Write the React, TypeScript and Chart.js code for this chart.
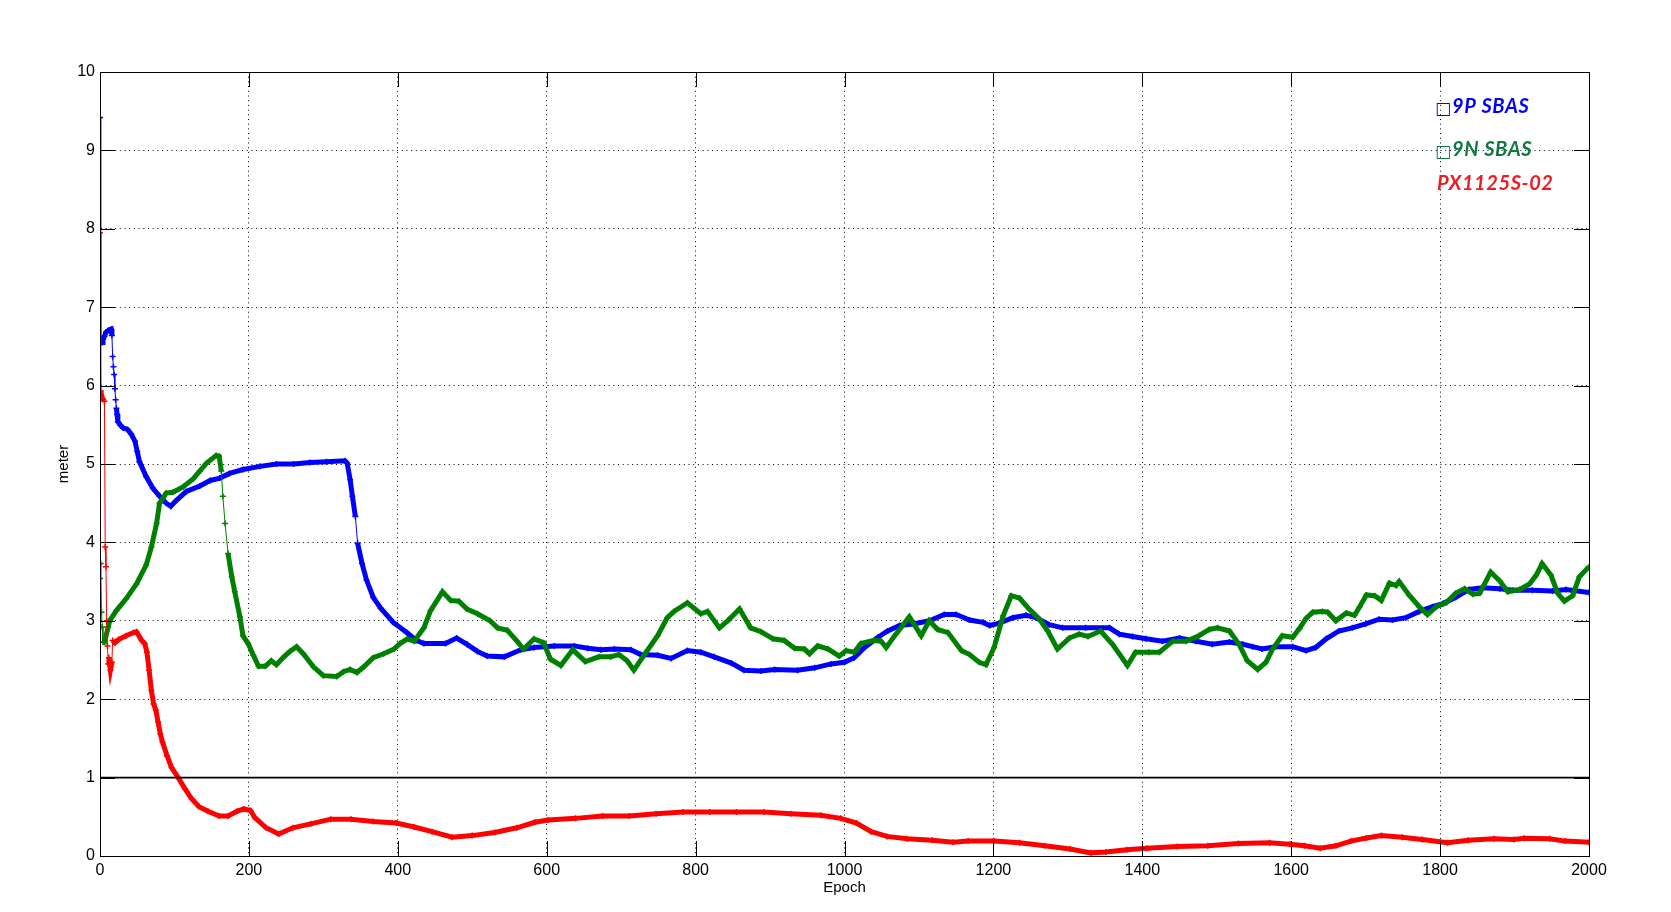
import React, { useEffect, useRef } from 'react';
import { Chart, registerables } from 'chart.js';

Chart.register(...registerables);

// ---- axis ticks ----
const xTickValues = [0, 200, 400, 600, 800, 1000, 1200, 1400, 1600, 1800, 2000];
const yTickValues = [0, 1, 2, 3, 4, 5, 6, 7, 8, 9, 10];

// ---- legend ----
const legendLabels = ['\u25A19P SBAS', '\u25A19N SBAS', 'PX1125S-02'];
const legendColors = ['#0000ff', '#0f7a3e', '#ee1c25'];

// ---- series (epoch, meter) ----
const blueSeries: [number, number][] = [
  [0, 9.42], [1, 6.55], [3, 6.55], [4, 6.59], [6, 6.63], [8, 6.68], [12, 6.71], [15, 6.72], [16, 6.64],
  [17, 6.37], [18, 6.24], [19, 6.14], [20, 5.96], [21, 5.82], [22, 5.71], [23, 5.63], [24, 5.54], [27, 5.5],
  [31, 5.46], [37, 5.44], [42, 5.38], [47, 5.29], [50, 5.16], [53, 5.03], [62, 4.84], [71, 4.69], [80, 4.59],
  [89, 4.5], [95, 4.46], [103, 4.54], [116, 4.65], [134, 4.72], [148, 4.79], [161, 4.82], [174, 4.88],
  [192, 4.93], [215, 4.97], [237, 5.0], [260, 5.0], [282, 5.02], [304, 5.03], [329, 5.04], [332, 5.01],
  [336, 4.8], [339, 4.59], [343, 4.33], [346, 3.99], [352, 3.73], [358, 3.52], [367, 3.3], [377, 3.16],
  [394, 2.98], [412, 2.85], [425, 2.75], [435, 2.71], [464, 2.71], [479, 2.78], [493, 2.7], [507, 2.61],
  [520, 2.55], [543, 2.54], [565, 2.63], [583, 2.66], [610, 2.68], [637, 2.68], [655, 2.65], [673, 2.63],
  [691, 2.64], [713, 2.63], [726, 2.57], [749, 2.56], [767, 2.52], [789, 2.62], [807, 2.6], [825, 2.54],
  [848, 2.46], [865, 2.37], [888, 2.36], [906, 2.38], [937, 2.37], [960, 2.4], [982, 2.45], [1000, 2.47],
  [1013, 2.53], [1027, 2.66], [1045, 2.79], [1058, 2.87], [1074, 2.94], [1092, 2.96], [1114, 3.0],
  [1134, 3.08], [1150, 3.08], [1168, 3.01], [1186, 2.98], [1195, 2.94], [1208, 2.97], [1226, 3.04],
  [1244, 3.07], [1257, 3.04], [1275, 2.95], [1293, 2.91], [1324, 2.91], [1356, 2.91], [1369, 2.83],
  [1387, 2.8], [1405, 2.77], [1427, 2.74], [1450, 2.78], [1472, 2.74], [1494, 2.7], [1517, 2.73],
  [1535, 2.7], [1548, 2.67], [1561, 2.64], [1579, 2.67], [1602, 2.67], [1620, 2.62], [1633, 2.66],
  [1647, 2.77], [1664, 2.87], [1682, 2.91], [1700, 2.96], [1718, 3.02], [1736, 3.01], [1754, 3.04],
  [1772, 3.12], [1790, 3.18], [1804, 3.22], [1821, 3.3], [1839, 3.4], [1857, 3.42], [1880, 3.41],
  [1898, 3.39], [1924, 3.39], [1951, 3.38], [1969, 3.4], [2000, 3.36],
];

const greenSeries: [number, number][] = [
  [0, 3.54], [1, 3.73], [2, 3.11], [3, 2.92], [4, 2.73], [6, 2.73], [11, 2.92], [13, 3.0], [22, 3.13],
  [35, 3.28], [49, 3.47], [62, 3.71], [69, 3.94], [76, 4.24], [80, 4.5], [89, 4.63], [98, 4.64], [112, 4.71],
  [125, 4.81], [134, 4.91], [143, 5.01], [156, 5.11], [160, 5.1], [163, 4.91], [165, 4.59], [168, 4.24],
  [172, 3.86], [177, 3.56], [181, 3.37], [188, 3.05], [192, 2.81], [199, 2.71], [206, 2.56], [213, 2.42],
  [222, 2.42], [230, 2.49], [237, 2.44], [246, 2.53], [255, 2.61], [264, 2.67], [273, 2.58], [287, 2.41],
  [300, 2.3], [318, 2.29], [327, 2.35], [336, 2.38], [345, 2.34], [354, 2.41], [367, 2.53], [381, 2.58],
  [395, 2.64], [403, 2.71], [413, 2.77], [422, 2.74], [435, 2.91], [444, 3.13], [460, 3.37], [471, 3.26],
  [482, 3.25], [493, 3.15], [507, 3.09], [524, 3.0], [534, 2.91], [547, 2.88], [560, 2.74], [569, 2.64],
  [583, 2.77], [596, 2.72], [605, 2.51], [619, 2.43], [635, 2.63], [652, 2.48], [670, 2.54], [686, 2.54],
  [697, 2.57], [708, 2.49], [717, 2.37], [735, 2.62], [749, 2.81], [762, 3.04], [771, 3.12], [789, 3.23],
  [807, 3.09], [816, 3.12], [832, 2.91], [843, 3.0], [859, 3.15], [874, 2.91], [888, 2.86], [904, 2.77],
  [919, 2.75], [933, 2.65], [946, 2.64], [953, 2.58], [964, 2.68], [978, 2.64], [993, 2.55], [1002, 2.62],
  [1013, 2.6], [1022, 2.71], [1040, 2.75], [1049, 2.74], [1056, 2.66], [1069, 2.83], [1087, 3.05],
  [1103, 2.81], [1114, 3.0], [1125, 2.89], [1139, 2.85], [1157, 2.62], [1168, 2.57], [1181, 2.47],
  [1190, 2.44], [1201, 2.66], [1213, 3.06], [1224, 3.32], [1235, 3.29], [1248, 3.15], [1262, 3.02],
  [1273, 2.87], [1286, 2.64], [1302, 2.78], [1315, 2.83], [1327, 2.8], [1344, 2.87], [1360, 2.7],
  [1380, 2.43], [1391, 2.6], [1409, 2.6], [1423, 2.6], [1441, 2.74], [1459, 2.74], [1476, 2.81],
  [1490, 2.89], [1501, 2.91], [1517, 2.87], [1530, 2.7], [1541, 2.49], [1555, 2.38], [1566, 2.47],
  [1575, 2.64], [1588, 2.81], [1602, 2.79], [1611, 2.9], [1620, 3.03], [1629, 3.11], [1642, 3.12],
  [1649, 3.11], [1660, 3.0], [1674, 3.1], [1685, 3.07], [1692, 3.18], [1701, 3.33], [1712, 3.32],
  [1721, 3.26], [1732, 3.48], [1741, 3.45], [1745, 3.5], [1759, 3.32], [1772, 3.18], [1783, 3.08],
  [1795, 3.18], [1808, 3.23], [1821, 3.35], [1833, 3.41], [1844, 3.34], [1853, 3.35], [1868, 3.62],
  [1880, 3.51], [1891, 3.37], [1907, 3.4], [1920, 3.47], [1929, 3.58], [1937, 3.73], [1949, 3.58],
  [1958, 3.35], [1967, 3.25], [1978, 3.32], [1987, 3.56], [2000, 3.69],
];

const redSeries: [number, number][] = [
  [0, 7.95], [1, 5.93], [3, 5.84], [6, 5.8], [7, 3.94], [8, 3.69], [9, 3.0], [10, 2.68], [11, 2.45],
  [12, 2.53], [14, 2.37], [16, 2.47], [17, 2.75], [20, 2.72], [25, 2.76], [35, 2.81], [45, 2.85], [49, 2.86],
  [56, 2.75], [60, 2.71], [63, 2.6], [66, 2.37], [69, 2.11], [72, 1.94], [75, 1.86], [78, 1.71], [81, 1.56],
  [84, 1.45], [90, 1.28], [96, 1.13], [105, 1.0], [114, 0.86], [123, 0.73], [133, 0.63], [145, 0.57],
  [160, 0.51], [172, 0.51], [184, 0.57], [193, 0.6], [202, 0.58], [208, 0.49], [223, 0.36], [240, 0.28],
  [259, 0.36], [283, 0.41], [310, 0.47], [337, 0.47], [367, 0.44], [398, 0.42], [422, 0.37], [446, 0.31],
  [473, 0.24], [500, 0.26], [530, 0.3], [560, 0.36], [584, 0.43], [602, 0.46], [639, 0.48], [675, 0.51],
  [711, 0.51], [747, 0.54], [783, 0.56], [819, 0.56], [855, 0.56], [892, 0.56], [928, 0.54], [968, 0.52],
  [995, 0.48], [1016, 0.42], [1036, 0.31], [1057, 0.25], [1084, 0.22], [1118, 0.2], [1146, 0.175],
  [1166, 0.19], [1201, 0.19], [1235, 0.17], [1269, 0.13], [1303, 0.09], [1331, 0.04], [1351, 0.05],
  [1379, 0.08], [1406, 0.1], [1447, 0.12], [1488, 0.13], [1529, 0.16], [1571, 0.17], [1598, 0.15],
  [1618, 0.13], [1639, 0.1], [1660, 0.13], [1680, 0.19], [1701, 0.23], [1721, 0.26], [1749, 0.24],
  [1776, 0.21], [1810, 0.17], [1838, 0.2], [1872, 0.22], [1899, 0.21], [1913, 0.225], [1947, 0.22],
  [1968, 0.19], [2000, 0.175],
];

const thresholdSeries: [number, number][] = [[0, 1], [2000, 1]];

const toXY = (s: [number, number][]) => s.map(([x, y]) => ({ x, y }));

const steepWidth = (ctx: any) => {
  const dx = Math.abs(ctx.p1.x - ctx.p0.x);
  const dy = Math.abs(ctx.p1.y - ctx.p0.y);
  return dy > 10 * Math.max(dx, 0.01) ? 1 : 5;
};

const lineDataset = (label: string, color: string, s: [number, number][]) => ({
  label,
  data: toXY(s),
  borderColor: color,
  backgroundColor: color,
  borderWidth: 5,
  pointStyle: 'cross',
  pointRadius: 3,
  pointBorderWidth: 1.5,
  pointHoverRadius: 3,
  tension: 0,
  fill: false,
  segment: { borderWidth: steepWidth },
});

const framePlugin = {
  id: 'matlabFrame',
  afterDatasetsDraw(chart: any) {
    const { ctx, chartArea: a, scales } = chart;
    const x = scales.x;
    const y = scales.y;
    const L = 15;
    ctx.save();
    ctx.strokeStyle = '#000';
    ctx.lineWidth = 1;
    ctx.setLineDash([]);
    ctx.beginPath();
    for (const v of yTickValues) {
      const py = Math.round(y.getPixelForValue(v)) + 0.5;
      ctx.moveTo(a.left, py);
      ctx.lineTo(a.left + L, py);
      ctx.moveTo(a.right, py);
      ctx.lineTo(a.right - L, py);
    }
    for (const v of xTickValues) {
      const px = Math.round(x.getPixelForValue(v)) + 0.5;
      ctx.moveTo(px, a.bottom);
      ctx.lineTo(px, a.bottom - L);
      ctx.moveTo(px, a.top);
      ctx.lineTo(px, a.top + L);
    }
    ctx.stroke();
    ctx.strokeRect(Math.round(a.left) + 0.5, Math.round(a.top) + 0.5, Math.round(a.right - a.left), Math.round(a.bottom - a.top));
    ctx.restore();
  },
  afterDraw(chart: any) {
    const { ctx } = chart;
    const baselines = [113, 156, 190];
    const left = 1437;
    ctx.save();
    ctx.textAlign = 'left';
    ctx.textBaseline = 'alphabetic';
    legendLabels.forEach((t, i) => {
      ctx.fillStyle = legendColors[i];
      let x = left;
      let rest = t;
      if (t.charAt(0) === '\u25A1') {
        ctx.font = 'bold 17px "DejaVu Sans", sans-serif';
        try { (ctx as any).letterSpacing = '0px'; } catch (e) { /* ignore */ }
        ctx.fillText('\u25A1', x - 2, baselines[i] + 1);
        x += 15;
        rest = t.slice(1);
      }
      ctx.font = 'italic bold 20px Lato, "Open Sans", sans-serif';
      try { (ctx as any).letterSpacing = '0.6px'; } catch (e) { /* ignore */ }
      ctx.fillText(rest, x, baselines[i]);
    });
    ctx.restore();
  },
};

export default function App() {
  const ref = useRef<HTMLCanvasElement | null>(null);

  useEffect(() => {
    if (!ref.current) return;
    const tickFont = { family: '"Liberation Sans", Arial, sans-serif', size: 16 };
    const chart = new Chart(ref.current, {
      type: 'line',
      data: {
        datasets: [
          {
            label: 'limit',
            data: toXY(thresholdSeries),
            borderColor: '#000',
            borderWidth: 1.6,
            pointRadius: 0,
            pointHoverRadius: 0,
            fill: false,
          } as any,
          lineDataset('PX1125S-02', '#ff0000', redSeries) as any,
          lineDataset('9N SBAS', '#008000', greenSeries) as any,
          lineDataset('9P SBAS', '#0000ff', blueSeries) as any,
        ],
      },
      options: {
        animation: false,
        responsive: false,
        devicePixelRatio: 1,
        events: [],
        layout: { padding: { left: 0, top: 72, right: 82, bottom: 0 }, autoPadding: false } as any,
        plugins: {
          legend: { display: false },
          tooltip: { enabled: false },
        },
        scales: {
          x: {
            type: 'linear',
            min: 0,
            max: 2000,
            afterFit: (s: any) => { s.height = 56; },
            afterBuildTicks: (s: any) => { s.ticks = xTickValues.map((v) => ({ value: v })); },
            ticks: {
              color: '#000',
              font: tickFont,
              padding: 5,
              maxRotation: 0,
              autoSkip: false,
              callback: (v: any) => String(v),
            },
            grid: { color: '#000', lineWidth: 1, drawTicks: false },
            border: { display: true, color: '#000', dash: [1, 3.7] },
            title: {
              display: true,
              text: 'Epoch',
              color: '#000',
              font: { family: '"Liberation Sans", Arial, sans-serif', size: 15 },
              padding: { top: 0, bottom: 15 },
            },
          },
          y: {
            type: 'linear',
            min: 0,
            max: 10,
            afterFit: (s: any) => { s.width = 100; },
            afterBuildTicks: (s: any) => { s.ticks = yTickValues.map((v) => ({ value: v })); },
            ticks: { color: '#000', font: tickFont, padding: 5, autoSkip: false, callback: (v: any) => String(v) },
            grid: { color: '#000', lineWidth: 1, drawTicks: false },
            border: { display: true, color: '#000', dash: [1, 3.7] },
            title: {
              display: true,
              text: 'meter',
              color: '#000',
              font: { family: '"Liberation Sans", Arial, sans-serif', size: 15 },
              padding: { top: 55, bottom: 0 },
            },
          },
        },
      } as any,
      plugins: [framePlugin],
    });
    return () => chart.destroy();
  }, []);

  return (
    <div style={{ position: 'fixed', left: 0, top: 0, width: 1671, height: 912, background: '#fff' }}>
      <canvas ref={ref} width={1671} height={912} style={{ width: 1671, height: 912, display: 'block' }} />
    </div>
  );
}
